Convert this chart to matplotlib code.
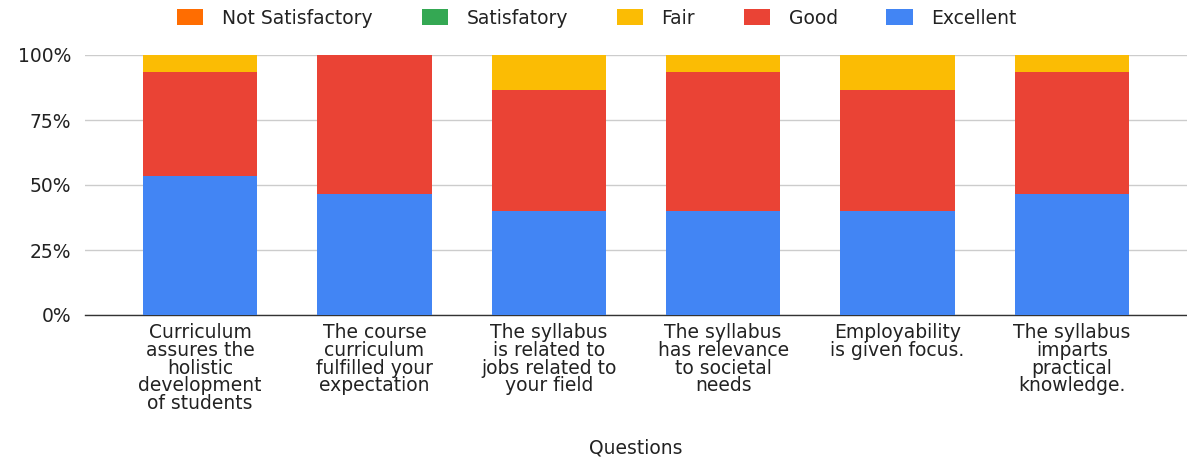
import matplotlib
matplotlib.use("Agg")
import matplotlib.pyplot as plt
import numpy as np

plt.rcParams['font.family'] = ['DejaVu Sans']

categories = [
    "Curriculum\nassures the\nholistic\ndevelopment\nof students",
    "The course\ncurriculum\nfulfilled your\nexpectation",
    "The syllabus\nis related to\njobs related to\nyour field",
    "The syllabus\nhas relevance\nto societal\nneeds",
    "Employability\nis given focus.",
    "The syllabus\nimparts\npractical\nknowledge.",
]
series_names = ["Not Satisfactory", "Satisfatory", "Fair", "Good", "Excellent"]
not_satisfactory = [0, 0, 0, 0, 0, 0]
satisfactory = [0, 0, 0, 0, 0, 0]
fair = [6.7, 0, 13.3, 6.7, 13.3, 6.7]
good = [40.0, 53.3, 46.7, 53.3, 46.7, 46.7]
excellent = [53.3, 46.7, 40.0, 40.0, 40.0, 46.7]
colors = {"Not Satisfactory": "#ff6d01", "Satisfatory": "#34a853", "Fair": "#fbbc04",
          "Good": "#ea4335", "Excellent": "#4285f4"}
yticks = [0, 25, 50, 75, 100]
ytick_labels = ["0%", "25%", "50%", "75%", "100%"]

FS = 13.5
TC = "#222222"

fig = plt.figure(figsize=(11.87, 4.59), dpi=100)
ax = fig.add_axes([85/1187, 1 - 315/459, 1 - 85/1187, (315 - 55)/459])

x = np.arange(len(categories))
w = 0.655
bottom = np.zeros(len(categories))
stack = [("Excellent", excellent), ("Good", good), ("Fair", fair),
         ("Satisfatory", satisfactory), ("Not Satisfactory", not_satisfactory)]
handles = {}
for name, vals in stack:
    vals = np.array(vals, dtype=float)
    b = ax.bar(x, vals, w, bottom=bottom, color=colors[name], label=name, zorder=3, linewidth=0)
    handles[name] = b
    bottom += vals

ax.set_xlim(-0.66, 5.66)
ax.set_ylim(0, 100)
ax.set_yticks(yticks)
ax.set_yticklabels(ytick_labels, fontsize=FS, color=TC)
ax.set_xticks(x)
ax.set_xticklabels(categories, fontsize=FS, color=TC, linespacing=0.91)
ax.tick_params(axis='both', length=0)
ax.tick_params(axis='y', pad=10)
ax.tick_params(axis='x', pad=6)
for s in ["top", "right", "left"]:
    ax.spines[s].set_visible(False)
ax.spines["bottom"].set_color("#333333")
ax.spines["bottom"].set_linewidth(1.0)
ax.yaxis.grid(True, color="#cccccc", linewidth=1, zorder=0)
ax.set_axisbelow(True)

fig.text(636/1187, 1 - 448/459, "Questions", ha="center", va="center", fontsize=FS, color=TC)

leg = fig.legend([handles[n] for n in series_names], series_names, loc="center",
                 bbox_to_anchor=(597/1187, 1 - 18/459), ncol=5, frameon=False,
                 fontsize=FS, handlelength=1.39, handleheight=0.9, columnspacing=2.6,
                 handletextpad=1.0, borderpad=0.2)
for t in leg.get_texts():
    t.set_color(TC)

fig.savefig("out.png", dpi=100)
